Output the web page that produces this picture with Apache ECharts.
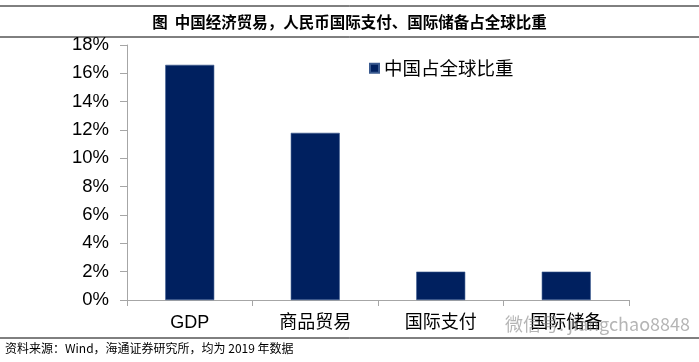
<!DOCTYPE html>
<html><head><meta charset="utf-8">
<script src="https://cdn.jsdelivr.net/npm/echarts@6/dist/echarts.min.js"></script>
<style>html,body{margin:0;padding:0;background:#fff}#c{width:699px;height:362px}</style>
</head><body><div id="c"></div>
<script>
const categories = ['GDP', '商品贸易', '国际支付', '国际储备'];
const shareValues = [16.6, 11.8, 2.0, 2.0];
const yTicks = [0, 2, 4, 6, 8, 10, 12, 14, 16, 18];
const seriesName = '中国占全球比重';
const titleText = '图  中国经济贸易，人民币国际支付、国际储备占全球比重';
const sourceText = '资料来源：Wind，海通证券研究所，均为 2019 年数据';
const watermarkText = '微信号: jiangchao8848';

const chart = echarts.init(document.getElementById('c'), null, {renderer: 'canvas'});
chart.setOption({
  animation: false,
  backgroundColor: '#fff',
  title: {
    text: titleText, left: 'center', top: 9,
    textStyle: {fontFamily: 'Noto Sans CJK SC', fontSize: 15.5, fontWeight: 'bold', color: '#000'}
  },
  legend: {
    data: [seriesName], left: 364, top: 54, icon: 'rect', itemWidth: 9, itemHeight: 9, itemGap: 6,
    textStyle: {fontFamily: 'Noto Sans CJK SC', fontSize: 18.5, color: '#000'}
  },
  grid: {left: 127, right: 70, top: 45, bottom: 62, containLabel: false},
  xAxis: {
    type: 'category', data: categories,
    axisLine: {lineStyle: {color: '#A6A6A6', width: 1}},
    axisTick: {show: true, length: 6, lineStyle: {color: '#A6A6A6'}},
    axisLabel: {margin: 14, fontSize: 18, color: '#000', fontFamily: 'Liberation Sans, Noto Sans CJK SC'}
  },
  yAxis: {
    type: 'value', min: yTicks[0], max: yTicks[yTicks.length - 1], interval: 2,
    splitLine: {show: false},
    axisLine: {show: true, lineStyle: {color: '#A6A6A6'}},
    axisTick: {show: true, length: 7, lineStyle: {color: '#A6A6A6'}},
    axisLabel: {formatter: v => v + '%', fontSize: 18.5, color: '#000', margin: 18, fontFamily: 'Liberation Sans'}
  },
  series: [{
    name: seriesName, type: 'bar', data: shareValues, barWidth: 49,
    itemStyle: {color: '#00205F', borderColor: '#3A5A8F', borderWidth: 0.6}
  }],
  graphic: [
    {type: 'line', shape: {x1: 0, y1: 6, x2: 699, y2: 6}, style: {stroke: '#000', lineWidth: 1}},
    {type: 'line', shape: {x1: 0, y1: 37, x2: 699, y2: 37}, style: {stroke: '#000', lineWidth: 1}},
    {type: 'line', shape: {x1: 0, y1: 338, x2: 699, y2: 338}, style: {stroke: '#000', lineWidth: 1}},
    {type: 'text', left: 5, top: 342, style: {text: sourceText, fontSize: 12, fill: '#000', fontFamily: 'Noto Sans CJK SC'}},
    {type: 'text', left: 505, top: 315, z: 100, style: {text: watermarkText, fontSize: 18, fill: 'rgba(120,120,120,0.55)', fontFamily: 'Noto Sans CJK SC'}}
  ]
});
</script></body></html>
